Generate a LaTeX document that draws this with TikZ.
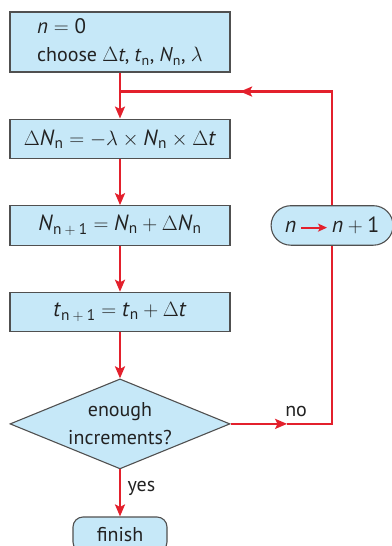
\documentclass[tikz,border=0pt]{standalone}
\usepackage{amsmath}
\usepackage{fontspec}
\setmainfont{PT Sans}
\usetikzlibrary{shapes.geometric, shapes.misc, arrows.meta, positioning}

\definecolor{boxblue}{HTML}{C6E8F8}
\definecolor{flowred}{HTML}{E3202C}
\definecolor{edgegray}{HTML}{505050}
\definecolor{txtgray}{HTML}{222222}

\newcommand{\vN}{\textit{N}}
\newcommand{\vt}{\textit{t}}
\newcommand{\vn}{\textit{n}}
\newcommand{\idx}[1]{\textsubscript{#1}}

\begin{document}
\begin{tikzpicture}[x=1pt, y=1pt,
    node distance=46pt,
    every node/.style={text=txtgray, font=\fontsize{20}{28}\selectfont},
    stepbox/.style={draw=edgegray, line width=1.1pt, fill=boxblue, minimum width=220pt, minimum height=39.5pt, inner sep=0pt, align=center},
    decision/.style={diamond, draw=edgegray, line width=1.1pt, fill=boxblue, minimum width=220pt, minimum height=90pt, aspect=2.44, inner sep=0pt},
    pill/.style={rounded rectangle, draw=edgegray, line width=1.1pt, fill=boxblue, minimum width=122pt, minimum height=39.5pt, inner sep=0pt},
    endbox/.style={draw=edgegray, line width=1.1pt, fill=boxblue, rounded corners=10pt, minimum width=94pt, minimum height=35pt, inner sep=0pt},
    line/.style={draw=flowred, line width=2.5pt},
    flow/.style={line, -{Stealth[length=12pt, width=10pt, inset=2.5pt]}}
]
    \useasboundingbox (0,0) rectangle (391,-546);

    \node[stepbox, minimum height=60pt, align=left] (init) at (120,-42)
        {\fontsize{21}{28}\selectfont\vn${}={}$0\\choose $\Delta$\vt, \vt\idx{n}, \vN\idx{n}, $\lambda$};
    \node[stepbox, below=of init, font=\fontsize{22}{28}\selectfont] (deltaN)
        {$\Delta$\vN\idx{n}${}={}{-}\lambda\times{}$\vN\idx{n}${}\times\Delta$\vt};
    \node[stepbox, below=of deltaN, font=\fontsize{22}{28}\selectfont] (nnext)
        {\vN\idx{n${}+{}$1}${}={}$\vN\idx{n}${}+\Delta$\vN\idx{n}};
    \node[stepbox, below=of nnext, font=\fontsize{22}{28}\selectfont] (tnext)
        {\vt\idx{n${}+{}$1}${}={}$\vt\idx{n}${}+\Delta$\vt};
    \node[decision, below=of tnext, label={[align=center, font=\fontsize{20}{28}\selectfont]center:enough\\increments?}] (dec) {};
    \node[endbox, below=47pt of dec] (finish) {finish};
    \node[pill, right=40pt of nnext, font=\fontsize{22}{28}\selectfont] (incr)
        {\vn\,\tikz[x=1pt, baseline=-5pt]\draw[flowred, line width=2.2pt, -{Stealth[length=9pt, width=8pt, inset=2pt]}] (0,0) -- (26,0);\,\vn${}+{}$1};

    % loop back
    \coordinate[below=19pt of init.south] (join);
    \coordinate (br) at (incr.south |- dec.east);
    \coordinate (tr) at (incr.north |- join);
    \coordinate[left=45pt of br] (nomid);
    \coordinate[left=92pt of tr] (topmid);

    \draw[flow] (init) -- (deltaN);
    \draw[flow] (deltaN) -- (nnext);
    \draw[flow] (nnext) -- (tnext);
    \draw[flow] (tnext) -- (dec);
    \draw[flow] (dec) -- node[right=3pt, pos=0.4] {yes} (finish);

    \draw[flow] (dec.east) -- (nomid);
    \draw[line] (nomid) -- (br) -- (incr.south);
    \node[above=4pt of nomid, xshift=9pt] (nolabel) {no};
    \draw[line] (incr.north) -- (tr) -- (topmid);
    \draw[flow] (tr) -- (topmid);
    \draw[line] (topmid) -- (join);
\end{tikzpicture}
\end{document}
